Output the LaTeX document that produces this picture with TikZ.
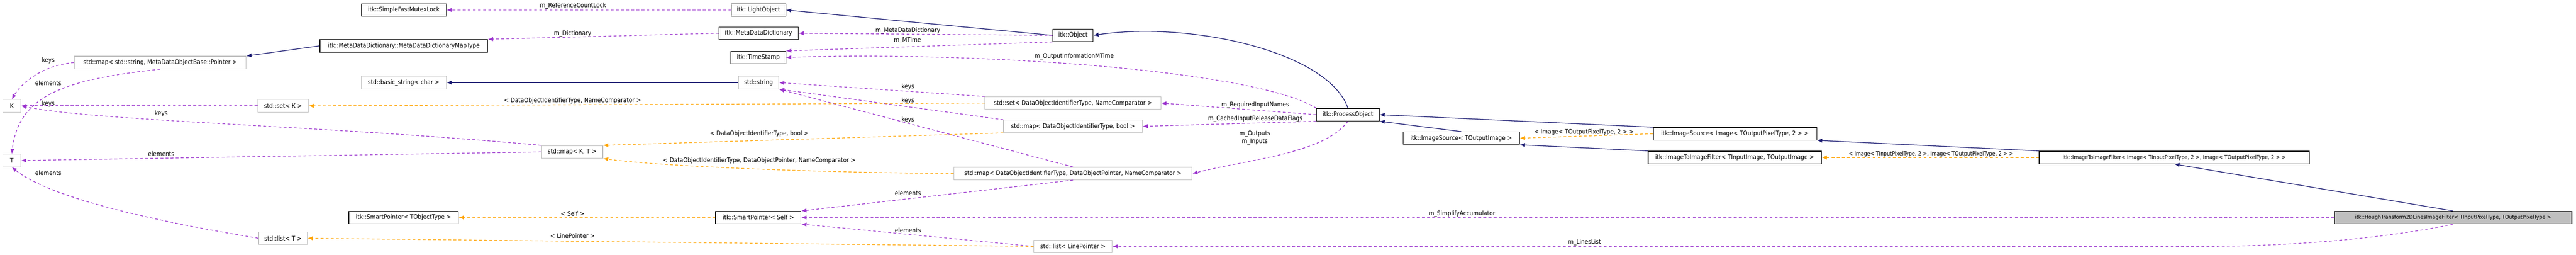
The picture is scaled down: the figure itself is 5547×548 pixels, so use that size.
\documentclass[tikz,border=0pt]{standalone}
\usepackage{fontspec}
\setmainfont{DejaVu Sans Condensed}
\usetikzlibrary{arrows.meta}
\definecolor{usec}{HTML}{9A32CD}
\definecolor{tplc}{HTML}{FFA500}
\definecolor{inhc}{HTML}{191970}
\definecolor{grayb}{HTML}{BFBFBF}
\tikzset{
  every node/.style={font=\fontsize{13.5}{16}\selectfont, inner sep=0pt},
  cls/.style={draw=black, line width=1.3pt, fill=white, minimum height=27pt, anchor=center},
  ext/.style={draw=grayb, line width=1.3pt, fill=white, minimum height=27pt, anchor=center},
  use/.style={draw=usec, line width=1.4pt, dash pattern=on 6pt off 5pt, -{Latex[length=11pt,width=9pt]}},
  tpl/.style={draw=tplc, line width=1.4pt, dash pattern=on 6pt off 5pt, -{Latex[length=11pt,width=9pt]}},
  inh/.style={draw=inhc, line width=1.4pt, -{Latex[length=11pt,width=9pt]}},
  lbl/.style={font=\fontsize{13.5}{16}\selectfont, align=center}
}
\begin{document}
\begin{tikzpicture}[x=1pt,y=-1pt]
\useasboundingbox (0,0) rectangle (5547,548);
% nodes
\node[cls, minimum width=183] (sfml) at (869.5,21.5) {itk::SimpleFastMutexLock};
\node[cls, minimum width=117] (light) at (1633.5,21.5) {itk::LightObject};
\node[cls, minimum width=171] (mdd) at (1633.5,71.5) {itk::MetaDataDictionary};
\node[cls, minimum width=361] (mtype) at (869.5,98.5) {itk::MetaDataDictionary::MetaDataDictionaryMapType};
\node[ext, minimum width=370] (mapstr) at (345,134.5) {std::map< std::string, MetaDataObjectBase::Pointer >};
\node[cls, minimum width=118] (ts) at (1633,123.5) {itk::TimeStamp};
\node[ext, minimum width=183] (bstr) at (869.5,177.5) {std::basic\_string< char >};
\node[ext, minimum width=87] (str) at (1633.5,177.5) {std::string};
\node[cls, minimum width=87] (obj) at (2310.5,76) {itk::Object};
\node[ext, minimum width=39] (K) at (25.5,227.5) {K};
\node[ext, minimum width=109] (setK) at (609.5,227.5) {std::set< K >};
\node[ext, minimum width=379] (setD) at (2310.5,221.5) {std::set< DataObjectIdentifierType, NameComparator >};
\node[ext, minimum width=299] (mapB) at (2310.5,271.5) {std::map< DataObjectIdentifierType, bool >};
\node[cls, minimum width=135] (po) at (2902.5,246.5) {itk::ProcessObject};
\node[ext, minimum width=132] (mapKT) at (1232,326.5) {std::map< K, T >};
\node[ext, minimum width=39] (T) at (25.5,345) {T};
\node[ext, minimum width=513] (mapP) at (2310.5,373) {std::map< DataObjectIdentifierType, DataObjectPointer, NameComparator >};
\node[cls, minimum width=236] (spT) at (869,467.5) {itk::SmartPointer< TObjectType >};
\node[cls, minimum width=184] (spS) at (1633,467.5) {itk::SmartPointer< Self >};
\node[ext, minimum width=105] (listT) at (609.5,512) {std::list< T >};
\node[ext, minimum width=169] (listL) at (2310.5,529.5) {std::list< LinePointer >};
\node[cls, minimum width=251] (isT) at (3146.5,297) {itk::ImageSource< TOutputImage >};
\node[cls, minimum width=352] (isI) at (3736,287.5) {itk::ImageSource< Image< TOutputPixelType, 2 > >};
\node[cls, minimum width=373] (itT) at (3735.5,338.5) {itk::ImageToImageFilter< TInputImage, TOutputImage >};
\node[cls, minimum width=582] (itI) at (4682,338.5) {\fontsize{12}{14}\selectfont itk::ImageToImageFilter< Image< TInputPixelType, 2 >, Image< TOutputPixelType, 2 > >};
\node[cls, fill=grayb, minimum width=511] (hough) at (5282.5,467.5) {\fontsize{12}{14}\selectfont itk::HoughTransform2DLinesImageFilter< TInputPixelType, TOutputPixelType >};
% inheritance
\draw[inh] (mtype.west) -- (mapstr.north east);
\draw[inh] (str) -- (bstr);
\draw[inh] (obj.west) -- (light.east);
\draw[inh] (po.north) .. controls (2860,110) and (2560,45) .. (obj.east);
\draw[inh] (isT.north) -- (po.south east);
\draw[inh] (isI.north west) -- (po.east);
\draw[inh] (itT.north west) -- (isT.south east);
\draw[inh] (itI.north west) -- (isI.south east);
\draw[inh] (hough.north) -- (itI.south);
% usage
\draw[use] (light) -- (sfml);
\draw[use] (mdd.west) -- (mtype.north east);
\draw[use] (obj.west) -- (mdd.east);
\draw[use] (obj.south west) -- (ts.north east);
\draw[use] (po.north west) .. controls (2700,150) and (2100,110) .. (ts.east);
\draw[use] (po.west) -- (setD.east);
\draw[use] (po.south west) -- (mapB.east);
\draw[use] (po.south) .. controls (2850,330) and (2700,340) .. (mapP.east);
\draw[use] (setD.north west) -- (str.east);
\draw[use] (mapB.north west) -- (str.south east);
\draw[use] (mapP.north) -- (str.south east);
\draw[use] (mapP.south) -- (spS.north east);
\draw[use] (listL.west) -- (spS.south east);
\draw[use] (hough.west) -- (spS.east);
\draw[use] (hough.south) .. controls (5150,510) and (4950,529.5) .. (4740,529.5) -- (listL.east);
\draw[use] (mapstr.west) .. controls (90,140) and (45,180) .. (K.north);
\draw[use] (mapstr.south) .. controls (150,170) and (40,200) .. (T.north);
\draw[use] (setK) -- (K);
\draw[use] (mapKT.north west) .. controls (700,270) and (200,260) .. (K.east);
\draw[use] (mapKT.west) -- (T.east);
\draw[use] (listT.west) .. controls (300,470) and (100,420) .. (T.south);
% template
\draw[tpl] (setD.west) -- (setK.east);
\draw[tpl] (mapB.south west) -- (mapKT.north east);
\draw[tpl] (mapP.west) .. controls (1700,370) and (1400,355) .. (mapKT.south east);
\draw[tpl] (spS) -- (spT);
\draw[tpl] (listL.west) -- (listT.east);
\draw[tpl] (isI.west) -- (isT.east);
\draw[tpl] (itI.west) -- (itT.east);
% labels
\node[lbl] at (1234,13) {m\_ReferenceCountLock};
\node[lbl] at (1233,73) {m\_Dictionary};
\node[lbl] at (1955,66) {m\_MetaDataDictionary};
\node[lbl] at (1954,87) {m\_MTime};
\node[lbl] at (2313,121) {m\_OutputInformationMTime};
\node[lbl] at (104,130) {keys};
\node[lbl] at (104,179) {elements};
\node[lbl] at (104,223) {keys};
\node[lbl] at (347,244) {keys};
\node[lbl] at (347,331) {elements};
\node[lbl] at (104,372) {elements};
\node[lbl] at (1233,217) {< DataObjectIdentifierType, NameComparator >};
\node[lbl] at (1635,288) {< DataObjectIdentifierType, bool >};
\node[lbl] at (1635,345) {< DataObjectIdentifierType, DataObjectPointer, NameComparator >};
\node[lbl] at (1233,459) {< Self >};
\node[lbl] at (1233,507) {< LinePointer >};
\node[lbl] at (1955,187) {keys};
\node[lbl] at (1955,216) {keys};
\node[lbl] at (1955,257) {keys};
\node[lbl] at (1955,415) {elements};
\node[lbl] at (1955,495) {elements};
\node[lbl] at (2703,226) {m\_RequiredInputNames};
\node[lbl] at (2703,256) {m\_CachedInputReleaseDataFlags};
\node[lbl] at (2702,296) {m\_Outputs\\m\_Inputs};
\node[lbl] at (3411,284) {< Image< TOutputPixelType, 2 > >};
\node[lbl] at (4158,331) {\fontsize{12}{14}\selectfont < Image< TInputPixelType, 2 >, Image< TOutputPixelType, 2 > >};
\node[lbl] at (3148,460) {m\_SimplifyAccumulator};
\node[lbl] at (3412,521) {m\_LinesList};
\end{tikzpicture}
\end{document}
